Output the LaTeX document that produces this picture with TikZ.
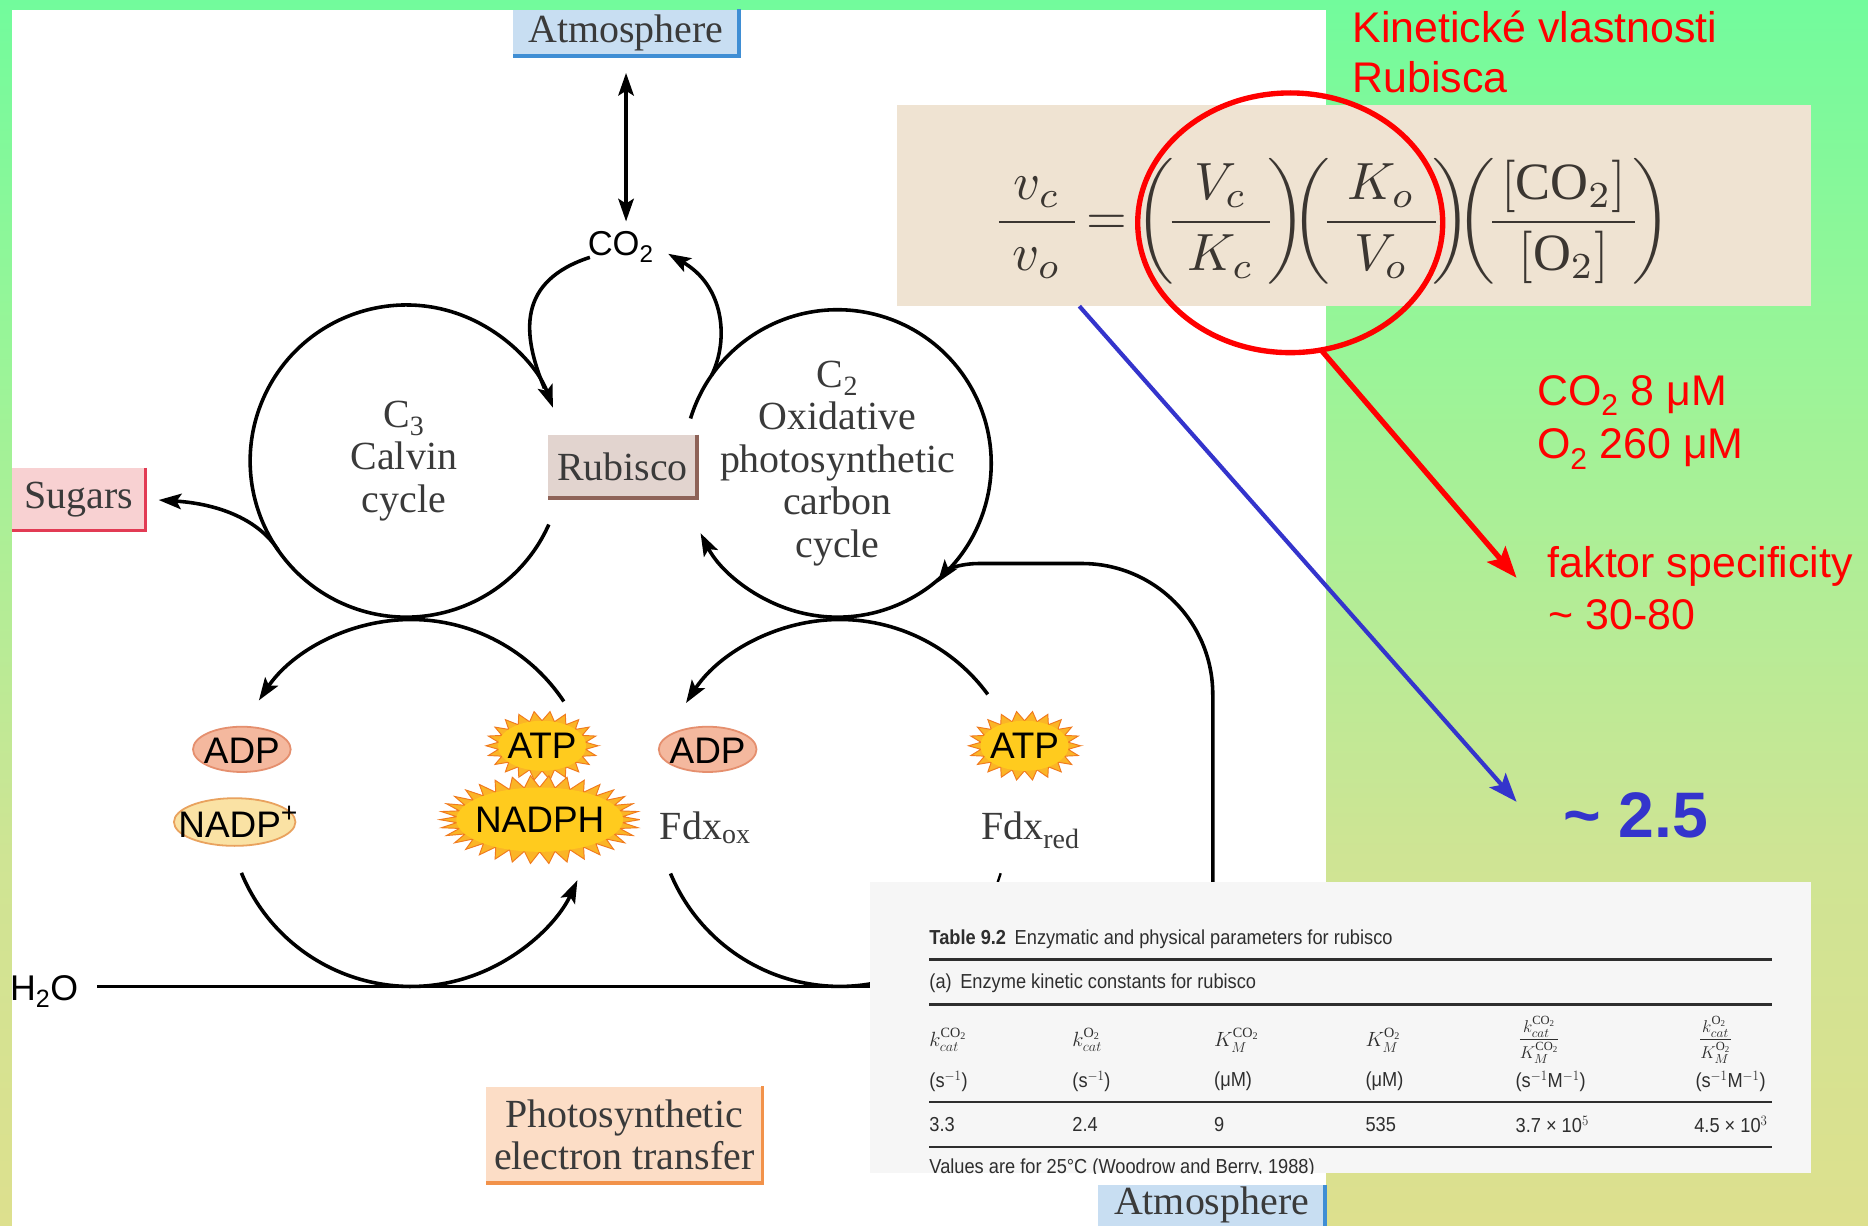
\documentclass[tikz,border=0pt]{standalone}
\usepackage{fontspec}
\usepackage{amsmath}
\usepackage{graphicx}
\setmainfont{Liberation Serif}
\newfontfamily\arial{Liberation Sans}
\usetikzlibrary{arrows.meta,calc}

% slide background
\definecolor{bgA}{HTML}{72FB9C}
\definecolor{bgB}{HTML}{98F598}
\definecolor{bgC}{HTML}{CFE494}
\definecolor{bgD}{HTML}{DDE08E}
% figure inks
\definecolor{serifgray}{HTML}{3A3A3A}
\definecolor{eqgray}{HTML}{3B3631}
\definecolor{atmfill}{HTML}{C8DEF2}
\definecolor{atmedge}{HTML}{3F8ED4}
\definecolor{sugfill}{HTML}{F8D1D2}
\definecolor{sugedge}{HTML}{E23B54}
\definecolor{rubfill}{HTML}{E2D4CF}
\definecolor{rubedge}{HTML}{8E6358}
\definecolor{petfill}{HTML}{FCDDC6}
\definecolor{petedge}{HTML}{F2924A}
\definecolor{adpfill}{HTML}{F4B89E}
\definecolor{adpedge}{HTML}{E58F6E}
\definecolor{nadpfill}{HTML}{FAE2A4}
\definecolor{nadpedge}{HTML}{E9A25E}
\definecolor{burstfill}{HTML}{FBB526}
\definecolor{burstedge}{HTML}{F07A1E}
\definecolor{burstcore}{HTML}{FFCB1E}
\definecolor{eqpaper}{HTML}{EFE3D2}
\definecolor{tabpaper}{HTML}{F6F6F6}
\definecolor{tabink}{HTML}{2E2E2E}
\definecolor{noteblue}{HTML}{3434CC}
\definecolor{notered}{HTML}{FF0000}

\pgfdeclareverticalshading{slidebg}{100bp}{color(0bp)=(bgD); color(25bp)=(bgD); color(40bp)=(bgC); color(61bp)=(bgB); color(75bp)=(bgA); color(100bp)=(bgA)}

% spiky energy-carrier badge: cx, cy, outer rx, outer ry, inner rx, inner ry, spikes
\newcommand\spikyblob[7]{%
  \pgfmathtruncatemacro\spikysamples{2*#7+1}%
  \filldraw[fill=burstfill, draw=burstedge, line width=0.8pt]
    plot[domain=0:360, samples=\spikysamples, variable=\t]
    ({#1+(#5+(#3-#5)*(1+cos(#7*\t))/2)*cos(\t)},
     {#2+(#6+(#4-#6)*(1+cos(#7*\t))/2)*sin(\t)}) -- cycle;
  \fill[burstcore] (#1,#2) ellipse[x radius=#5, y radius=#6];}

\newcommand\tabx[1]{\scalebox{0.9}[1]{#1}}

\begin{document}
\begin{tikzpicture}[x=1pt, y=-1pt,
  flow/.style={line width=3pt, -{Stealth[length=19pt,width=13pt,inset=4pt]}},
  twoway/.style={line width=3pt, {Stealth[length=19pt,width=13pt,inset=4pt]}-{Stealth[length=19pt,width=13pt,inset=4pt]}},
  plainline/.style={line width=3pt},
  serif/.style={font=\fontsize{33.5}{35.6}\selectfont, text=serifgray, inner sep=0pt, align=center},
  mol/.style={font=\arial\fontsize{31}{34}\selectfont, text=black, inner sep=0pt},
  tagbox/.style={inner sep=0pt, font=\fontsize{33.5}{35.6}\selectfont, text=serifgray, align=center},
  redtxt/.style={font=\arial\fontsize{36}{42}\selectfont, text=notered, inner sep=0pt, anchor=base west},
  tab/.style={font=\arial\fontsize{17}{19}\selectfont, text=tabink, inner sep=0pt},
  rule/.style={tabink, line width=#1},
]
\useasboundingbox (0,0) rectangle (1568,1029);

% background and figure panel
\shade[shading=slidebg] (0,0) rectangle (1568,1029);
\fill[white] (10,8) rectangle (1113,1029);

% ---------- labelled boxes ----------
\node[tagbox, fill=atmfill, minimum width=189pt, minimum height=39pt] (atm) at (525.5,27.5) {Atmosphere};
\draw[atmedge, line width=3pt] (atm.north east) -- (atm.south east) -- (atm.south west);

\node[tagbox, fill=sugfill, minimum width=112pt, minimum height=52pt] (sug) at (66,419) {Sugars};
\draw[sugedge, line width=3pt] (sug.north east) -- (sug.south east) -- (sug.south west);

\node[tagbox, fill=rubfill, minimum width=125pt, minimum height=53pt] (rub) at (522.5,391.5) {Rubisco};
\draw[rubedge, line width=3pt] (rub.north east) -- (rub.south east) -- (rub.south west);

\node[tagbox, fill=petfill, minimum width=232pt, minimum height=81pt] (pet) at (524,952.5) {Photosynthetic\\electron transfer};
\draw[petedge, line width=3pt] (pet.north east) -- (pet.south east) -- (pet.south west);

% ---------- CO2 exchange ----------
\node[mol, font=\arial\fontsize{29}{32}\selectfont] (co2) at (521,207) {CO\textsubscript{2}};
\draw[twoway, shorten <=14pt, shorten >=8pt] (atm.south) -- (atm.south |- co2.north);

% ---------- C3 cycle ----------
\coordinate (c3) at (341,387);
\draw[flow] ($(c3)+(-336:131)$) arc[start angle=-336, end angle=-20, radius=131];
\draw[plainline] ($(co2.west)+(2,9)$) .. controls (434,236) and (438,280) .. (457,326);
\draw[flow, shorten >=11pt] ($(c3)+(145:131)$) .. controls (218,437) and (185,423) .. (sug.east);
\node[serif] (c3lbl) at (339,387) {C\textsubscript{3}\\Calvin\\cycle};

% ---------- C2 cycle ----------
\coordinate (c2) at (703,389);
\draw[flow] ($(c2)+(197:129)$) arc[start angle=197, end angle=513, radius=129];
\draw[flow] ($(c2)+(215:129)$) .. controls (612,285) and (608,240) .. ($(co2.east)+(12,6)$);
\node[serif] (c2lbl) at (703,389) {C\textsubscript{2}\\Oxidative\\photosynthetic\\carbon\\cycle};

% ---------- energy loops ----------
\coordinate (lowL) at (345,674);
\coordinate (lowR) at (705,674);
\draw[flow] ($(lowL)+(-33.6:154)$) arc[start angle=-33.6, end angle=-146, radius=154];
\draw[flow] ($(lowL)+(157.6:154)$) arc[start angle=157.6, end angle=24.9, radius=154];
\draw[flow] ($(lowR)+(-36.3:154)$) arc[start angle=-36.3, end angle=-147, radius=154];
\draw[plainline] ($(lowR)+(157.4:154)$) arc[start angle=157.4, end angle=60, radius=154];

% return path from reduced ferredoxin into the C2 cycle
\coordinate (retfoot) at (1018,800);
\draw[flow] (retfoot) -- (1018,583) .. controls (1018,522) and (969,473) .. (908,473) -- (822,473) .. controls (806,473) and (795,478) .. (787,489);
\draw[line width=2pt] (840,733) -- (837,742);

% water line
\node[mol, font=\arial\fontsize{30}{33}\selectfont] (h2o) at (37,832) {H\textsubscript{2}O};
\coordinate (lineR) at (1010,828);
\draw[plainline] ([xshift=16pt]h2o.east |- lineR) -- (lineR);

% carriers
\filldraw[fill=adpfill, draw=adpedge, line width=1.5pt] (203,629) ellipse[x radius=41, y radius=19];
\node[mol] (adpL) at (203,630) {ADP};
\filldraw[fill=nadpfill, draw=nadpedge, line width=1.5pt] (197,690) ellipse[x radius=51, y radius=20];
\node[mol] (nadp) at (200,690) {NADP\raisebox{4pt}{\fontsize{34}{34}\selectfont\textsuperscript{+}}};
\spikyblob{455}{626}{47}{29}{37}{21}{22}
\node[mol] (atpL) at (455,626) {ATP};
\spikyblob{453}{688}{84}{37}{70}{27}{34}
\node[mol] (nadph) at (453,688) {NADPH};
\filldraw[fill=adpfill, draw=adpedge, line width=1.5pt] (594,629) ellipse[x radius=41, y radius=19];
\node[mol] (adpR) at (594,630) {ADP};
\spikyblob{860}{626}{47}{29}{37}{21}{22}
\node[mol] (atpR) at (860,626) {ATP};
\node[serif] (fdxox) at (592,695) {Fdx\textsubscript{ox}};
\node[serif] (fdxred) at (865,697) {Fdx\textsubscript{red}};

% ---------- specificity equation ----------
\fill[eqpaper] (753,88) rectangle (1520,257);
\node[text=eqgray, inner sep=0pt] (eq) at (1120.5,186) {\scalebox{4.4}{\nulldelimiterspace=0pt$\dfrac{\mkern5mu v_c\mkern5mu}{v_o}\mkern-1mu=\mkern-2mu\biggl(\mkern-1mu\dfrac{\mkern8mu V_c\mkern8mu}{K_c}\mkern-1mu\biggr)\mkern-5mu\biggl(\mkern-1mu\dfrac{\mkern7mu K_o\mkern7mu}{V_o}\mkern-1mu\biggr)\mkern-5mu\biggl(\mkern-1mu\dfrac{\mkern3mu[\mathrm{CO}_2]\mkern3mu}{[\mathrm{O}_2]}\mkern-1mu\biggr)$}};

% ---------- rubisco constants table ----------
\fill[tabpaper] (730,740) rectangle (1520,985);
\node[tab, anchor=west] (ttitle) at (780,788) {\tabx{\textbf{Table 9.2}\hspace{8pt}Enzymatic and physical parameters for rubisco}};
\draw[rule=2.5pt] (780,805) -- (1487,805);
\node[tab, anchor=west] (tsub) at (780,825) {\tabx{(a)\hspace{8pt}Enzyme kinetic constants for rubisco}};
\draw[rule=2.5pt] (780,843) -- (1487,843);
\node[tab, anchor=west] (h1) at (780,873) {$k^{\mathrm{CO_2}}_{cat}$};
\node[tab, anchor=west] (h2) at (900,873) {$k^{\mathrm{O_2}}_{cat}$};
\node[tab, anchor=west] (h3) at (1019,873) {$K^{\mathrm{CO_2}}_{M}$};
\node[tab, anchor=west] (h4) at (1146,873) {$K^{\mathrm{O_2}}_{M}$};
\node[tab, font=\arial\fontsize{15}{17}\selectfont] (h5) at (1292,873) {$\dfrac{k^{\mathrm{CO_2}}_{cat}}{K^{\mathrm{CO_2}}_{M}}$};
\node[tab, font=\arial\fontsize{15}{17}\selectfont] (h6) at (1440,873) {$\dfrac{k^{\mathrm{O_2}}_{cat}}{K^{\mathrm{O_2}}_{M}}$};
\node[tab, anchor=west] (u1) at (780,908) {\tabx{(s$^{-1}$)}};
\node[tab, anchor=west] (u2) at (900,908) {\tabx{(s$^{-1}$)}};
\node[tab, anchor=west] (u3) at (1019,908) {\tabx{(μM)}};
\node[tab, anchor=west] (u4) at (1146,908) {\tabx{(μM)}};
\node[tab, anchor=west] (u5) at (1272,908) {\tabx{(s$^{-1}$M$^{-1}$)}};
\node[tab, anchor=west] (u6) at (1423,908) {\tabx{(s$^{-1}$M$^{-1}$)}};
\draw[rule=1.2pt] (780,925) -- (1487,925);
\node[tab, anchor=west] (v1) at (780,944) {\tabx{3.3}};
\node[tab, anchor=west] (v2) at (900,944) {\tabx{2.4}};
\node[tab, anchor=west] (v3) at (1019,944) {\tabx{9}};
\node[tab, anchor=west] (v4) at (1146,944) {\tabx{535}};
\node[tab, anchor=west] (v5) at (1272,944) {\tabx{3.7 × 10$^{5}$}};
\node[tab, anchor=west] (v6) at (1422,944) {\tabx{4.5 × 10$^{3}$}};
\draw[rule=2pt] (780,963) -- (1487,963);
\begin{scope}
  \clip (730,740) rectangle (1520,985);
  \node[tab, anchor=west] (tnote) at (780,981) {\tabx{Values are for 25°C (Woodrow and Berry, 1988)}};
\end{scope}

\fill[atmfill] (922,995) rectangle (1112,1029);
\node[tagbox] (atmB) at (1017,1011) {Atmosphere};
\draw[atmedge, line width=3pt] (1112,995) -- (1112,1029);

% ---------- annotations ----------
\draw[notered, line width=4.5pt] (1083,187) ellipse[x radius=128, y radius=109];
\coordinate (redfrom) at (1110,295);
\coordinate (redto) at (1273,485);
\draw[notered, line width=4.5pt, -{Stealth[length=26pt,width=20pt,inset=5pt]}] (redfrom) -- (redto);
\coordinate (bluefrom) at (906,257);
\coordinate (blueto) at (1273,673);
\draw[noteblue, line width=3.5pt, -{Stealth[length=24pt,width=18pt,inset=5pt]}] (bluefrom) -- (blueto);

\node[redtxt] (kin1) at (1135,36) {Kinetické vlastnosti};
\node[redtxt] (kin2) at (1135,78) {Rubisca};
\node[redtxt] (conc1) at (1290,340) {CO\textsubscript{2} 8 μM};
\node[redtxt] (conc2) at (1290,385) {O\textsubscript{2} 260 μM};
\node[redtxt] (fak1) at (1299,485) {faktor specificity};
\node[redtxt] (fak2) at (1300,528) {\textasciitilde{} 30-80};
\node[redtxt, text=noteblue, font=\arial\bfseries\fontsize{54}{60}\selectfont] (ratio) at (1312,703) {\textasciitilde{} 2.5};
\end{tikzpicture}
\end{document}
